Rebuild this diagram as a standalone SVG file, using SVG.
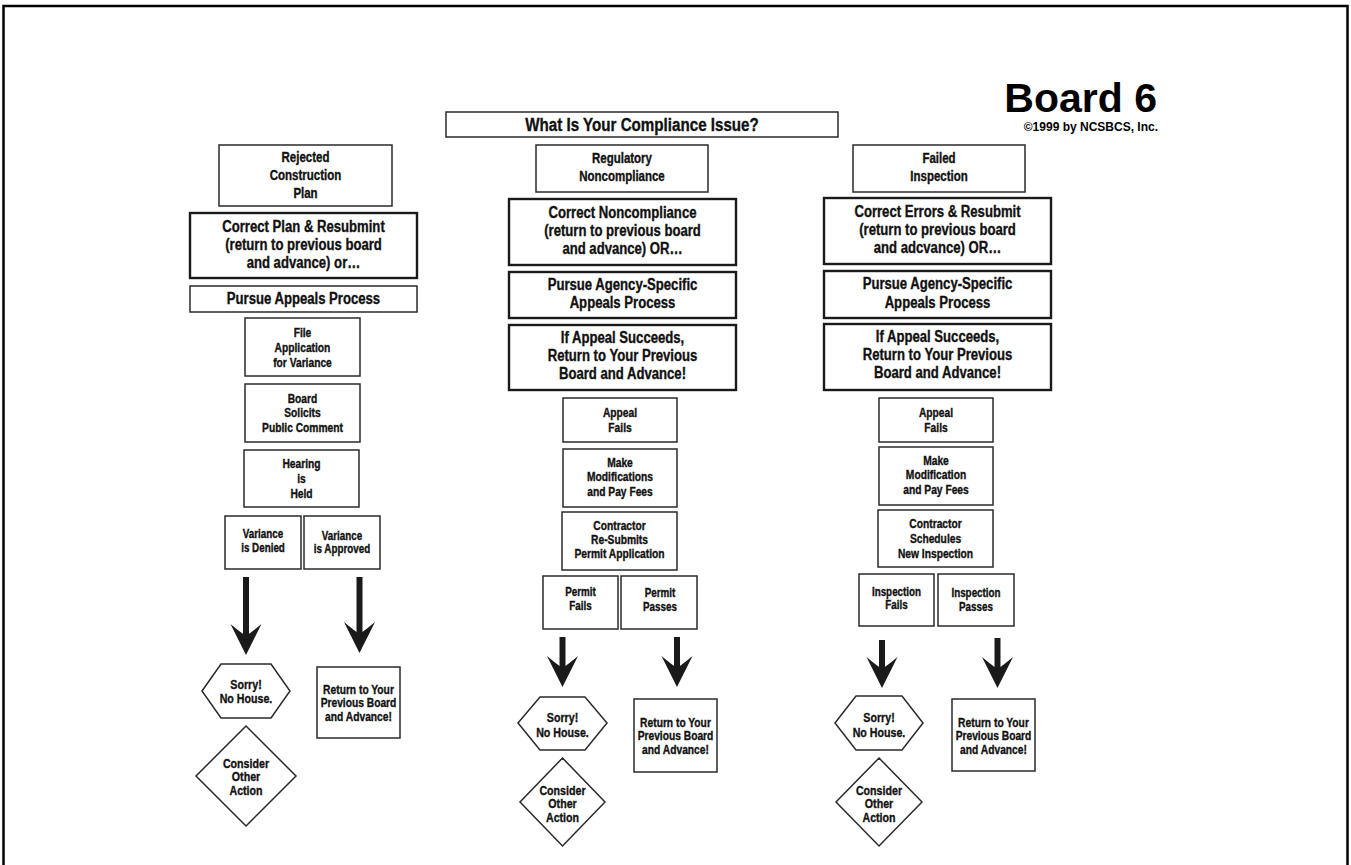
<svg xmlns="http://www.w3.org/2000/svg" width="1351" height="865" viewBox="0 0 1351 865">
<style>
.bx{fill:#fff;stroke:#2a2a2a;stroke-width:1.5}
.bxt{fill:#fff;stroke:#1a1a1a;stroke-width:2.4}
.t{font-family:"Liberation Sans",Arial,sans-serif;font-weight:bold;text-anchor:middle;fill:#111;stroke:#111;stroke-width:0.35}
.s18{font-size:18.5px}.s16{font-size:16px}.s14{font-size:14px}.s13{font-size:13px}.s125{font-size:12.5px}.s12{font-size:12px}
.ar{stroke:#1a1a1a;stroke-width:6;fill:none;marker-end:url(#ah)}
.hd{font-family:"Liberation Sans",Arial,sans-serif;font-weight:bold;text-anchor:end;fill:#000}
</style>
<defs>
<marker id="ah" markerUnits="userSpaceOnUse" markerWidth="34" markerHeight="36" viewBox="0 -18 34 36" refX="12" refY="0" orient="auto">
<path d="M0,-15.5 Q8,-6 12,0 Q8,6 0,15.5 Q17,7 31,0 Q17,-7 0,-15.5 Z" fill="#1a1a1a"/>
</marker>
</defs>
<rect x="0" y="0" width="1351" height="865" fill="#fff"/>
<rect x="3.5" y="6" width="1344" height="870" fill="none" stroke="#000" stroke-width="2.5"/>
<g id="title">
<text class="hd" x="1157" y="112" font-size="41">Board 6</text>
<text class="hd" x="1158" y="131" font-size="12">©1999 by NCSBCS, Inc.</text>
</g>
<g id="question"><rect class="bx" x="446" y="112" width="392" height="25"/><text class="t s18" transform="translate(642 0) scale(0.82 1)" x="0" y="131">What Is Your Compliance Issue?</text></g>

<!-- Column 1 -->
<g id="rejected"><rect class="bx" x="219" y="145" width="173" height="61"/><text class="t s14" transform="translate(305.5 0) scale(0.82 1)"><tspan x="0" y="162">Rejected</tspan><tspan x="0" y="180">Construction</tspan><tspan x="0" y="198">Plan</tspan></text></g>
<g id="correct-plan"><rect class="bxt" x="190" y="213" width="227" height="65"/><text class="t s16" transform="translate(303.5 0) scale(0.82 1)"><tspan x="0" y="232">Correct Plan &amp; Resubmint</tspan><tspan x="0" y="250">(return to previous board</tspan><tspan x="0" y="268">and advance) or…</tspan></text></g>
<g id="pursue-appeals"><rect class="bx" x="190" y="286" width="227" height="26"/><text class="t s16" transform="translate(303.5 0) scale(0.82 1)" x="0" y="304">Pursue Appeals Process</text></g>
<g id="file-application"><rect class="bx" x="245" y="318" width="115" height="58"/><text class="t s125" transform="translate(302.5 0) scale(0.82 1)"><tspan x="0" y="337">File</tspan><tspan x="0" y="352">Application</tspan><tspan x="0" y="367">for Variance</tspan></text></g>
<g id="board-solicits"><rect class="bx" x="245" y="384" width="115" height="58"/><text class="t s125" transform="translate(302.5 0) scale(0.82 1)"><tspan x="0" y="403">Board</tspan><tspan x="0" y="417">Solicits</tspan><tspan x="0" y="432">Public Comment</tspan></text></g>
<g id="hearing"><rect class="bx" x="244" y="450" width="115" height="57"/><text class="t s125" transform="translate(301.5 0) scale(0.82 1)"><tspan x="0" y="468">Hearing</tspan><tspan x="0" y="483">is</tspan><tspan x="0" y="498">Held</tspan></text></g>
<g id="variance-denied"><rect class="bx" x="225" y="516" width="76" height="53"/><text class="t s12" transform="translate(263 0) scale(0.82 1)"><tspan x="0" y="538">Variance</tspan><tspan x="0" y="552">is Denied</tspan></text></g>
<g id="variance-approved"><rect class="bx" x="304" y="516" width="76" height="53"/><text class="t s12" transform="translate(342 0) scale(0.82 1)"><tspan x="0" y="540">Variance</tspan><tspan x="0" y="553">is Approved</tspan></text></g>
<g id="sorry-1"><polygon class="bx" points="202,691 221,664 271,664 290,691 271,718 221,718"/><text class="t s13" transform="translate(246 0) scale(0.82 1)"><tspan x="0" y="689">Sorry!</tspan><tspan x="0" y="703">No House.</tspan></text></g>
<g id="consider-1"><polygon class="bx" points="246,726 296,776 246,826 196,776"/><text class="t s13" transform="translate(246 0) scale(0.82 1)"><tspan x="0" y="768">Consider</tspan><tspan x="0" y="781.5">Other</tspan><tspan x="0" y="795">Action</tspan></text></g>
<g id="return-1"><rect class="bx" x="317" y="667" width="83" height="71"/><text class="t s125" transform="translate(358.5 0) scale(0.82 1)"><tspan x="0" y="694">Return to Your</tspan><tspan x="0" y="707.5">Previous Board</tspan><tspan x="0" y="721">and Advance!</tspan></text></g>

<!-- Column 2 -->
<g id="regulatory"><rect class="bx" x="536" y="145" width="172" height="47"/><text class="t s14" transform="translate(622 0) scale(0.82 1)"><tspan x="0" y="163">Regulatory</tspan><tspan x="0" y="181">Noncompliance</tspan></text></g>
<g id="correct-noncompliance"><rect class="bxt" x="509" y="199" width="227" height="66"/><text class="t s16" transform="translate(622.5 0) scale(0.82 1)"><tspan x="0" y="218">Correct Noncompliance</tspan><tspan x="0" y="236">(return to previous board</tspan><tspan x="0" y="254">and advance) OR…</tspan></text></g>
<g id="pursue-agency-2"><rect class="bxt" x="509" y="272" width="227" height="46"/><text class="t s16" transform="translate(622.5 0) scale(0.82 1)"><tspan x="0" y="290">Pursue Agency-Specific</tspan><tspan x="0" y="308">Appeals Process</tspan></text></g>
<g id="appeal-succeeds-2"><rect class="bxt" x="509" y="325" width="227" height="65"/><text class="t s16" transform="translate(622.5 0) scale(0.82 1)"><tspan x="0" y="343">If Appeal Succeeds,</tspan><tspan x="0" y="361">Return to Your Previous</tspan><tspan x="0" y="379">Board and Advance!</tspan></text></g>
<g id="appeal-fails-2"><rect class="bx" x="563" y="398" width="114" height="44"/><text class="t s125" transform="translate(620 0) scale(0.82 1)"><tspan x="0" y="417">Appeal</tspan><tspan x="0" y="432">Fails</tspan></text></g>
<g id="modifications-2"><rect class="bx" x="563" y="449" width="114" height="58"/><text class="t s125" transform="translate(620 0) scale(0.82 1)"><tspan x="0" y="467">Make</tspan><tspan x="0" y="481">Modifications</tspan><tspan x="0" y="496">and Pay Fees</tspan></text></g>
<g id="resubmits"><rect class="bx" x="562" y="512" width="115" height="58"/><text class="t s125" transform="translate(619.5 0) scale(0.82 1)"><tspan x="0" y="530">Contractor</tspan><tspan x="0" y="544">Re-Submits</tspan><tspan x="0" y="558">Permit Application</tspan></text></g>
<g id="permit-fails"><rect class="bx" x="543" y="576" width="75" height="53"/><text class="t s12" transform="translate(580.5 0) scale(0.82 1)"><tspan x="0" y="596">Permit</tspan><tspan x="0" y="610">Fails</tspan></text></g>
<g id="permit-passes"><rect class="bx" x="621" y="576" width="76" height="53"/><text class="t s12" transform="translate(660 0) scale(0.82 1)"><tspan x="0" y="597">Permit</tspan><tspan x="0" y="611">Passes</tspan></text></g>
<g id="sorry-2"><polygon class="bx" points="518,723 540,697 585,697 607,723 585,750 540,750"/><text class="t s13" transform="translate(562.5 0) scale(0.82 1)"><tspan x="0" y="722">Sorry!</tspan><tspan x="0" y="737">No House.</tspan></text></g>
<g id="consider-2"><polygon class="bx" points="562.5,758 605,802 562.5,846 520,802"/><text class="t s13" transform="translate(562.5 0) scale(0.82 1)"><tspan x="0" y="795">Consider</tspan><tspan x="0" y="808.5">Other</tspan><tspan x="0" y="822">Action</tspan></text></g>
<g id="return-2"><rect class="bx" x="634" y="699" width="83" height="73"/><text class="t s125" transform="translate(675.5 0) scale(0.82 1)"><tspan x="0" y="727">Return to Your</tspan><tspan x="0" y="740.5">Previous Board</tspan><tspan x="0" y="754">and Advance!</tspan></text></g>

<!-- Column 3 -->
<g id="failed"><rect class="bx" x="853" y="145" width="172" height="47"/><text class="t s14" transform="translate(939 0) scale(0.82 1)"><tspan x="0" y="163">Failed</tspan><tspan x="0" y="181">Inspection</tspan></text></g>
<g id="correct-errors"><rect class="bxt" x="824" y="198" width="227" height="66"/><text class="t s16" transform="translate(937.5 0) scale(0.82 1)"><tspan x="0" y="217">Correct Errors &amp; Resubmit</tspan><tspan x="0" y="235">(return to previous board</tspan><tspan x="0" y="253">and adcvance) OR…</tspan></text></g>
<g id="pursue-agency-3"><rect class="bxt" x="824" y="271" width="227" height="47"/><text class="t s16" transform="translate(937.5 0) scale(0.82 1)"><tspan x="0" y="289">Pursue Agency-Specific</tspan><tspan x="0" y="308">Appeals Process</tspan></text></g>
<g id="appeal-succeeds-3"><rect class="bxt" x="824" y="324" width="227" height="66"/><text class="t s16" transform="translate(937.5 0) scale(0.82 1)"><tspan x="0" y="342">If Appeal Succeeds,</tspan><tspan x="0" y="360">Return to Your Previous</tspan><tspan x="0" y="378">Board and Advance!</tspan></text></g>
<g id="appeal-fails-3"><rect class="bx" x="879" y="398" width="114" height="44"/><text class="t s125" transform="translate(936 0) scale(0.82 1)"><tspan x="0" y="417">Appeal</tspan><tspan x="0" y="432">Fails</tspan></text></g>
<g id="modification-3"><rect class="bx" x="879" y="447" width="114" height="58"/><text class="t s125" transform="translate(936 0) scale(0.82 1)"><tspan x="0" y="465">Make</tspan><tspan x="0" y="479">Modification</tspan><tspan x="0" y="494">and Pay Fees</tspan></text></g>
<g id="schedules"><rect class="bx" x="878" y="510" width="115" height="57"/><text class="t s125" transform="translate(935.5 0) scale(0.82 1)"><tspan x="0" y="528">Contractor</tspan><tspan x="0" y="543">Schedules</tspan><tspan x="0" y="558">New Inspection</tspan></text></g>
<g id="inspection-fails"><rect class="bx" x="859" y="574" width="75" height="52"/><text class="t s12" transform="translate(896.5 0) scale(0.82 1)"><tspan x="0" y="596">Inspection</tspan><tspan x="0" y="609">Fails</tspan></text></g>
<g id="inspection-passes"><rect class="bx" x="938" y="574" width="76" height="52"/><text class="t s12" transform="translate(976 0) scale(0.82 1)"><tspan x="0" y="597">Inspection</tspan><tspan x="0" y="611">Passes</tspan></text></g>
<g id="sorry-3"><polygon class="bx" points="835,723 856,696 902,696 923,723 902,750 856,750"/><text class="t s13" transform="translate(879 0) scale(0.82 1)"><tspan x="0" y="722">Sorry!</tspan><tspan x="0" y="737">No House.</tspan></text></g>
<g id="consider-3"><polygon class="bx" points="879,758 922,802 879,846 836,802"/><text class="t s13" transform="translate(879 0) scale(0.82 1)"><tspan x="0" y="795">Consider</tspan><tspan x="0" y="808.5">Other</tspan><tspan x="0" y="822">Action</tspan></text></g>
<g id="return-3"><rect class="bx" x="952" y="699" width="83" height="72"/><text class="t s125" transform="translate(993.5 0) scale(0.82 1)"><tspan x="0" y="727">Return to Your</tspan><tspan x="0" y="740.5">Previous Board</tspan><tspan x="0" y="754">and Advance!</tspan></text></g>

<g id="connectors">
<line class="ar" x1="246" y1="577" x2="246" y2="636"/>
<line class="ar" x1="359.5" y1="577" x2="359.5" y2="634"/>
<line class="ar" x1="562.5" y1="637" x2="562.5" y2="668"/>
<line class="ar" x1="677" y1="637" x2="677" y2="668"/>
<line class="ar" x1="882" y1="640" x2="882" y2="669"/>
<line class="ar" x1="997.5" y1="638" x2="997.5" y2="669"/>
</g>
</svg>
